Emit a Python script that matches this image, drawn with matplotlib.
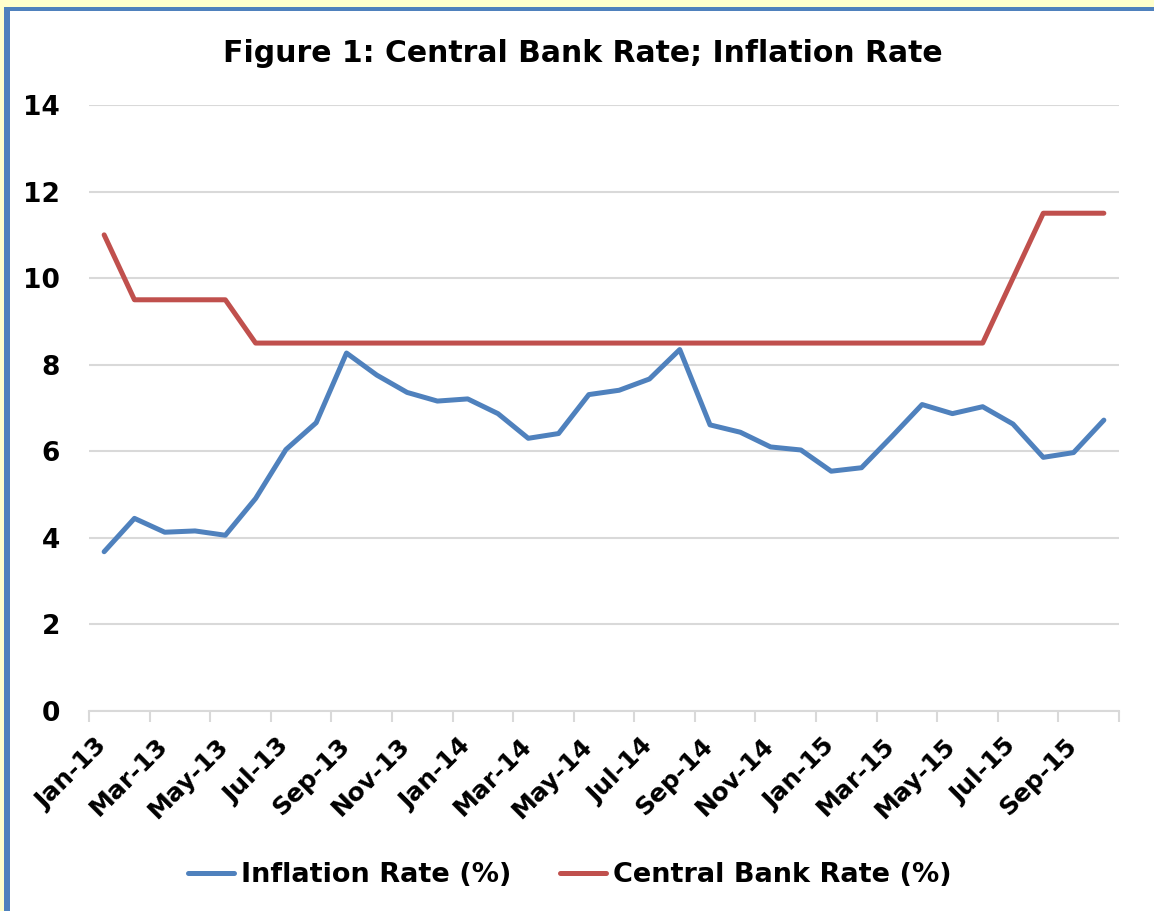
import matplotlib
matplotlib.use("Agg")
import matplotlib.pyplot as plt
from matplotlib.patches import Rectangle
from matplotlib.transforms import ScaledTranslation
import numpy as np

months = ["Jan-13","Feb-13","Mar-13","Apr-13","May-13","Jun-13","Jul-13","Aug-13","Sep-13","Oct-13","Nov-13","Dec-13",
          "Jan-14","Feb-14","Mar-14","Apr-14","May-14","Jun-14","Jul-14","Aug-14","Sep-14","Oct-14","Nov-14","Dec-14",
          "Jan-15","Feb-15","Mar-15","Apr-15","May-15","Jun-15","Jul-15","Aug-15","Sep-15","Oct-15"]
inflation = [3.68, 4.45, 4.13, 4.16, 4.06, 4.91, 6.04, 6.66, 8.27, 7.76, 7.36, 7.16,
             7.21, 6.87, 6.30, 6.41, 7.31, 7.41, 7.67, 8.35, 6.61, 6.44, 6.10, 6.03,
             5.54, 5.62, 6.34, 7.08, 6.87, 7.03, 6.63, 5.86, 5.97, 6.72]
cbr = [11.0, 9.5, 9.5, 9.5, 9.5, 8.5, 8.5, 8.5, 8.5, 8.5, 8.5, 8.5,
       8.5, 8.5, 8.5, 8.5, 8.5, 8.5, 8.5, 8.5, 8.5, 8.5, 8.5, 8.5,
       8.5, 8.5, 8.5, 8.5, 8.5, 8.5, 10.0, 11.5, 11.5, 11.5]
yticks = [0, 2, 4, 6, 8, 10, 12, 14]

plt.rcParams['font.family'] = ['DejaVu Sans']
plt.rcParams['font.weight'] = 'bold'

W, H = 1154, 911
fig = plt.figure(figsize=(W/100, H/100), dpi=100)
fig.patch.set_facecolor('#FFFFCC')
fig.patches.append(Rectangle((4/W, 0), 1, 1 - 7/H, transform=fig.transFigure,
                             facecolor='#4F81BD', edgecolor='none', zorder=-2))
fig.patches.append(Rectangle((10/W, 0), 1, 1 - 11/H, transform=fig.transFigure,
                             facecolor='white', edgecolor='none', zorder=-1))

ax = fig.add_axes([89/W, 1 - 711/H, (1119-89)/W, (711-105)/H])
ax.set_facecolor('none')
x = np.arange(len(months))
ax.plot(x, inflation, color='#4F81BD', lw=3.6, solid_capstyle='round', solid_joinstyle='round',
        label='Inflation Rate (%)', zorder=3)
ax.plot(x, cbr, color='#C0504D', lw=3.6, solid_capstyle='round', solid_joinstyle='round',
        label='Central Bank Rate (%)', zorder=3)

ax.set_xlim(-0.5, len(months) - 0.5)
ax.set_ylim(0, 14)
ax.set_yticks(yticks)
ax.set_yticklabels([str(v) for v in yticks], fontsize=19, fontweight='bold')
ax.yaxis.grid(True, color='#D9D9D9', lw=1.5)
ax.set_axisbelow(True)
for s in ['top', 'right', 'left']:
    ax.spines[s].set_visible(False)
ax.spines['bottom'].set_color('#D9D9D9')
ax.spines['bottom'].set_linewidth(1.5)
ax.tick_params(axis='y', length=0, pad=21)

ax.set_xticks(np.arange(-0.5, len(months), 2))
ax.set_xticklabels([])
ax.tick_params(axis='x', which='major', length=8, width=1.5, color='#D9D9D9')
ax.set_xticks(x[::2], minor=True)
ax.set_xticklabels(months[::2], minor=True, rotation=45, ha='right', rotation_mode='anchor',
                   fontsize=18, fontweight='bold')
ax.tick_params(axis='x', which='minor', length=0, pad=14)
off = ScaledTranslation(-9/100, -3/100, fig.dpi_scale_trans)
for lbl in ax.get_xticklabels(minor=True):
    lbl.set_transform(lbl.get_transform() + off)

fig.text(583/W, 1 - 53/H, 'Figure 1: Central Bank Rate; Inflation Rate', ha='center', va='center',
         fontsize=21.5, fontweight='bold')

leg = fig.legend(loc='center', bbox_to_anchor=(570/W, 1 - 875/H), ncol=2, frameon=False,
                 fontsize=19.5, handlelength=1.7, handletextpad=0.25, columnspacing=1.8)
for t in leg.get_texts():
    t.set_fontweight('bold')

fig.savefig('out.png', dpi=100)
